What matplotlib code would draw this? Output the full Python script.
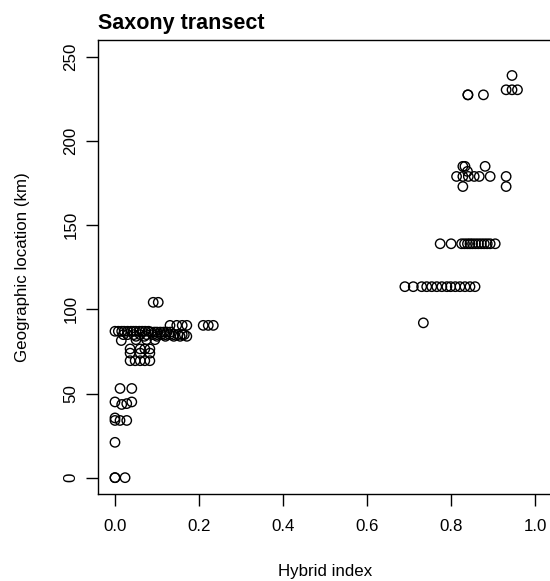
import numpy as np
import matplotlib
matplotlib.use('Agg')
import matplotlib.pyplot as plt

plt.rcParams['font.family'] = ['Liberation Sans', 'DejaVu Sans']

# Saxony transect: hybrid index vs geographic location (km)
hybrid_index = [
    # 0 - 55 km
    0.000, 0.000, 0.024,
    0.000,
    0.000, 0.000, 0.012, 0.028,
    0.000, 0.016, 0.028, 0.040,
    0.012, 0.040,
    # 68 - 82 km
    0.036, 0.048, 0.060, 0.071, 0.083,
    0.036, 0.060, 0.083,
    0.036, 0.060, 0.071, 0.083,
    0.015, 0.050, 0.075, 0.095,
    # 84 - 88 km dense band
    0.000, 0.008, 0.016, 0.022, 0.030, 0.038, 0.044, 0.050, 0.058, 0.065, 0.072, 0.080,
    0.086, 0.094, 0.100, 0.108, 0.116, 0.124, 0.132,
    0.020, 0.030, 0.045, 0.060, 0.075, 0.090, 0.100, 0.110, 0.120, 0.130, 0.140, 0.150, 0.160, 0.165,
    0.050, 0.070, 0.100, 0.120, 0.140, 0.155, 0.171,
    # 90 km
    0.131, 0.147, 0.160, 0.171, 0.210, 0.222, 0.234,
    # 104 km
    0.091, 0.103,
    # eastern part
    0.734,
    0.690, 0.710, 0.730, 0.742, 0.754, 0.766, 0.778, 0.790, 0.799, 0.810, 0.821, 0.833, 0.845, 0.857,
    0.774, 0.800, 0.825, 0.832, 0.839, 0.845, 0.851, 0.858, 0.865, 0.872, 0.879, 0.886, 0.893, 0.905,
    0.828, 0.931,
    0.813, 0.828, 0.841, 0.855, 0.867, 0.893, 0.931,
    0.839,
    0.828, 0.833, 0.881,
    0.840, 0.840, 0.877,
    0.931, 0.945, 0.958,
    0.945,
]

location_km = [
    0, 0, 0,
    21,
    34, 35.5, 34, 34,
    45, 43.5, 44, 45,
    53, 53,
    69.5, 69.5, 69.5, 69.5, 69.5,
    74, 74, 74,
    76.5, 76.5, 76.5, 76.5,
    81.5, 82, 82, 82,
    87, 87, 87, 87, 87, 87, 87, 87, 87, 87, 87, 87,
    86.5, 86.5, 86.5, 86.5, 86.5, 86.5, 86.5,
    85, 85, 85, 85, 85, 85, 85, 85, 85, 85, 85, 85, 85, 85,
    84, 84, 84, 84, 84, 84, 84,
    90.5, 90.5, 90.5, 90.5, 90.5, 90.5, 90.5,
    104.2, 104.2,
    92,
    113.5, 113.5, 113.5, 113.5, 113.5, 113.5, 113.5, 113.5, 113.5, 113.5, 113.5, 113.5, 113.5, 113.5,
    139, 139, 139, 139, 139, 139, 139, 139, 139, 139, 139, 139, 139, 139,
    173, 173,
    179, 179, 179, 179, 179, 179, 179,
    182,
    185, 185, 185,
    227.5, 227.5, 227.5,
    230.5, 230.5, 230.5,
    239,
]

fig = plt.figure(figsize=(5.5, 5.81), dpi=100)
ax = fig.add_axes([0.1785, 0.1489, 0.825, 0.782])

ax.scatter(hybrid_index, location_km, s=46, facecolors='none',
           edgecolors='black', linewidths=1.0)

ax.set_xlim(-0.04, 1.04)
ax.set_ylim(-10, 260)
ax.set_xticks([0.0, 0.2, 0.4, 0.6, 0.8, 1.0])
ax.set_xticklabels(['0.0', '0.2', '0.4', '0.6', '0.8', '1.0'])
ax.set_yticks([0, 50, 100, 150, 200, 250])
for lab in ax.get_yticklabels():
    lab.set_rotation(90)
    lab.set_va('center')

ax.tick_params(length=8.3, width=1.0, labelsize=12.2, pad=9)
ax.tick_params(axis='y', pad=6)
for sp in ax.spines.values():
    sp.set_linewidth(1.0)
ax.spines['right'].set_visible(False)

ax.set_xlabel('Hybrid index', fontsize=12.2, labelpad=22)
ax.set_ylabel('Geographic location (km)', fontsize=12.2, labelpad=24)
ax.set_title('Saxony transect', loc='left', fontsize=15.5,
             fontweight='bold', pad=8)

fig.savefig('out.png', dpi=100)
